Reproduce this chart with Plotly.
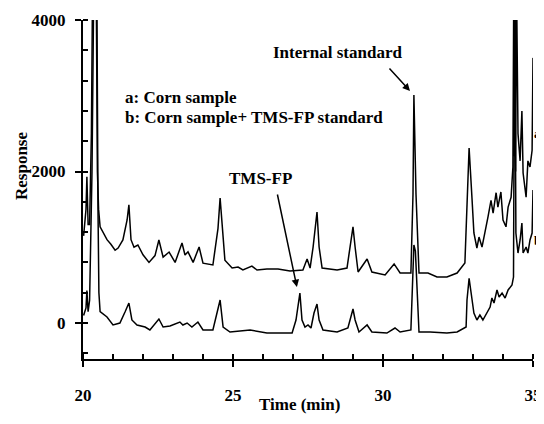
import plotly.graph_objects as go

# Trace a: Corn sample (upper chromatogram)
time_a = [20.02, 20.1, 20.13, 20.17, 20.22, 20.28, 20.32, 20.44, 20.48, 20.52, 20.57, 20.67,
          20.8, 20.93,
          21.07, 21.17, 21.33, 21.47, 21.53, 21.6, 21.7, 21.83, 22.0, 22.2, 22.4, 22.53,
          22.67, 22.87, 23.07, 23.3, 23.4, 23.5, 23.67, 23.87, 24.0, 24.33, 24.5, 24.57,
          24.65, 24.73, 24.97, 25.17, 25.33, 25.63, 25.8, 26.13, 26.5, 26.9, 27.33, 27.47,
          27.57, 27.67, 27.8, 27.87, 27.97, 28.47, 28.8, 28.9, 29.0, 29.07, 29.17, 29.47,
          29.63, 30.07, 30.37, 30.57, 30.93, 31.0, 31.03, 31.1, 31.2, 31.5, 31.8, 32.13,
          32.47, 32.73, 32.8, 32.87, 32.97, 33.03, 33.13, 33.2, 33.3, 33.4, 33.5, 33.6,
          33.67, 33.77, 33.83, 33.93, 34.0, 34.1, 34.17, 34.27, 34.33, 34.36, 34.38, 34.4,
          34.42, 34.45, 34.5,
          34.57, 34.63, 34.67, 34.77, 34.83, 34.9, 34.97, 35.0]
resp_a = [1150, 1500, 1930, 1300, 1300, 2500, 4500, 4500, 2000, 1500, 1270, 1190,
          1100, 1040,
          960, 990, 1096, 1360, 1560, 1100, 1000, 1030, 900, 800, 890, 1096,
          870, 937, 800, 1056, 898, 940, 800, 1003, 790, 766, 1250, 1650,
          1250, 830, 726, 739, 700, 752, 700, 713, 713, 686, 700, 845,
          726, 1003, 1465, 1003, 726, 700, 726, 1003, 1270, 1003, 673, 845,
          673, 634, 780, 660, 660, 1700, 3010, 1700, 660, 660, 607, 607,
          660, 792, 1620, 2310, 1620, 1188, 990, 1135, 1003, 1188, 1400, 1620,
          1450, 1720, 1530, 1730, 1360, 1270, 1530, 1660, 2060, 4500, 2200, 4500,
          2000, 4500, 2500,
          2140, 2800, 1980, 1660, 2140, 2060, 2280, 3500]

# Trace b: Corn sample + TMS-FP standard (lower chromatogram)
time_b = [20.02, 20.1, 20.13, 20.17, 20.22, 20.3, 20.36, 20.46, 20.5, 20.53, 20.57, 20.8,
          21.0, 21.23,
          21.4, 21.53, 21.63, 21.8, 22.07, 22.23, 22.53, 22.67, 22.9, 23.23, 23.33, 23.47,
          23.63, 23.83, 24.0, 24.33, 24.57, 24.67, 24.9, 25.57, 26.13, 26.97, 27.1, 27.23,
          27.3, 27.4, 27.5, 27.6, 27.7, 27.8, 27.87, 28.0, 28.47, 28.83, 29.0, 29.07,
          29.2, 29.47, 29.63, 30.13, 30.4, 30.57, 30.93, 30.98, 31.03, 31.08, 31.13, 31.2,
          31.57, 32.13, 32.47, 32.77, 32.8, 32.87, 32.97, 33.03, 33.13, 33.23, 33.33, 33.47,
          33.57, 33.63, 33.7, 33.8, 33.87, 33.97, 34.07, 34.17, 34.3, 34.35, 34.39, 34.43,
          34.5,
          34.57, 34.63, 34.67, 34.77, 34.83, 34.9, 34.97, 35.0]
resp_b = [100, 200, 430, 150, 300, 2000, 4500, 4500, 1500, 400, 150, 80,
          -26, 0,
          145, 264, 40, -26, -53, -92, 53, -53, -40, 13, -26, 0,
          -53, 13, -92, -92, 304, -53, -119, -92, -132, -132, 40, 396,
          40, -53, -26, -66, 132, 251, 40, -92, -119, -66, 185, 40,
          -119, -26, -119, -132, -66, -119, -92, 396, 1030, 950, 396, -119,
          -119, -132, -119, -53, 304, 590, 304, 132, 40, 106, 40, 145,
          211, 330, 264, 436, 343, 396, 330, 436, 502, 607, 4500, 1188,
          924,
          1096, 1320, 924, 1003, 924, 1096, 1188, 1756]

x_ticks = [20, 25, 30, 35]
y_ticks = [0, 2000, 4000]

FONT = "Liberation Serif, Times New Roman, serif"

fig = go.Figure()
fig.add_trace(go.Scatter(x=time_a, y=resp_a, mode="lines",
                         line=dict(color="black", width=1.5), showlegend=False))
fig.add_trace(go.Scatter(x=time_b, y=resp_b, mode="lines",
                         line=dict(color="black", width=1.5), showlegend=False))

# The page body has an 8px margin, so the figure is drawn 8px right/down;
# the figure size and margins compensate for that offset.
fig.update_layout(
    width=536, height=416,
    margin=dict(l=75, r=11, t=12, b=65, autoexpand=False),
    paper_bgcolor="white", plot_bgcolor="white",
    font=dict(family=FONT, size=17, color="black"),
    xaxis=dict(range=[20, 35], tickvals=x_ticks, ticktext=[f"<b>{v}</b>" for v in x_ticks],
               automargin=False,
               showgrid=False, zeroline=False, showline=True, linecolor="black", linewidth=2,
               ticks="outside", ticklen=6, tickwidth=2, tickcolor="black",
               ticklabelstandoff=14,
               minor=dict(dtick=1, tick0=20, ticks="inside", ticklen=5, tickwidth=1.5,
                          tickcolor="black", showgrid=False)),
    yaxis=dict(range=[-475, 4000], tickvals=y_ticks, ticktext=[f"<b>{v}</b>" for v in y_ticks],
               automargin=False,
               showgrid=False, zeroline=False, showline=True, linecolor="black", linewidth=2,
               ticks="outside", ticklen=6, tickwidth=2, tickcolor="black",
               ticklabelstandoff=6,
               minor=dict(dtick=400, tick0=0, ticks="inside", ticklen=5, tickwidth=1.5,
                          tickcolor="black", showgrid=False)),
)

def paper(px, py):
    # page pixel -> paper coordinates (plot area spans px 83..533, py 20..359 on the page)
    return (px - 83) / 450, (359 - py) / 339

ann_list = []
rx, ry = paper(21, 166)
ann_list.append(dict(x=rx, y=ry, xref="paper", yref="paper", text="<b>Response</b>",
                     textangle=-90, showarrow=False, xanchor="center", yanchor="middle"))
tx, ty = paper(299, 405)
ann_list.append(dict(x=tx, y=ty, xref="paper", yref="paper", text="<b>Time (min)</b>",
                     showarrow=False, xanchor="center", yanchor="middle"))

ann_list += [
    dict(x=28.47, y=3577, xref="x", yref="y", text="<b>Internal standard</b>", showarrow=False,
         xanchor="center", yanchor="middle"),
    dict(x=30.9, y=3062, xref="x", yref="y", ax=30.17, ay=3379, axref="x", ayref="y",
         text="", showarrow=True, arrowhead=2, arrowsize=1, arrowwidth=1.5, arrowcolor="black"),
    dict(x=25.9, y=1914, xref="x", yref="y", text="<b>TMS-FP</b>", showarrow=False,
         xanchor="center", yanchor="middle"),
    dict(x=27.13, y=475, xref="x", yref="y", ax=26.47, ay=1716, axref="x", ayref="y",
         text="", showarrow=True, arrowhead=2, arrowsize=1, arrowwidth=1.5, arrowcolor="black"),
    dict(x=21.33, y=2983, xref="x", yref="y", text="<b>a: Corn sample</b>", showarrow=False,
         xanchor="left", yanchor="middle"),
    dict(x=21.33, y=2719, xref="x", yref="y", text="<b>b: Corn sample+ TMS-FP standard</b>",
         showarrow=False, xanchor="left", yanchor="middle"),
]
ax_, ay_ = paper(543, 133)
ann_list.append(dict(x=ax_, y=ay_, xref="paper", yref="paper", text="<b>a</b>",
                     showarrow=False, xanchor="right", yanchor="middle", font=dict(size=13)))
bx_, by_ = paper(543, 240)
ann_list.append(dict(x=bx_, y=by_, xref="paper", yref="paper", text="<b>b</b>",
                     showarrow=False, xanchor="right", yanchor="middle", font=dict(size=13)))
fig.update_layout(annotations=ann_list)

fig.write_html("out.html")
